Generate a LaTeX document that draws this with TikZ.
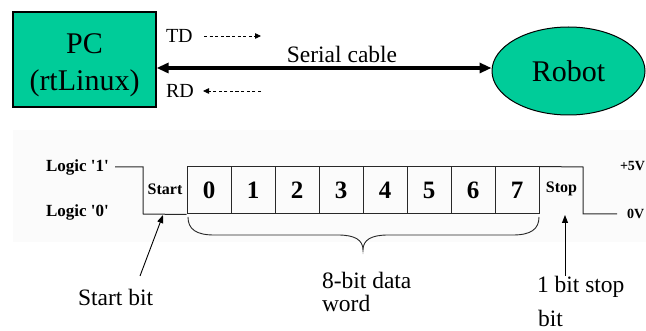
\documentclass[tikz,border=0pt]{standalone}
\usepackage{fontspec}
\setmainfont{Liberation Serif}
\usetikzlibrary{arrows.meta,shapes.geometric}
\definecolor{boxteal}{RGB}{0,204,153}
\definecolor{panelgray}{RGB}{251,251,251}
\definecolor{wavegray}{RGB}{40,40,40}

\begin{document}
\begin{tikzpicture}[x=1pt,y=-1pt,
  txt/.style={inner sep=0pt, outer sep=0pt},
  bigfont/.style={font=\fontsize{30}{37}\selectfont},
  labfont/.style={font=\fontsize{23.5}{28}\selectfont},
  tdfont/.style={font=\fontsize{20}{24}\selectfont},
  logicfont/.style={font=\bfseries\fontsize{17}{20}\selectfont},
  bitfont/.style={font=\bfseries\fontsize{25}{30}\selectfont},
  tagfont/.style={font=\bfseries\fontsize{16}{19}\selectfont},
  voltfont/.style={font=\bfseries\fontsize{14}{17}\selectfont},
  cable/.style={line width=3.2pt, {Triangle[length=12pt,width=10pt]}-{Triangle[length=12pt,width=10pt]}},
  sigline/.style={line width=0.8pt, dash pattern=on 3.2pt off 2.4pt, -{Triangle[length=6pt,width=5.5pt]}},
  wave/.style={line width=1pt, draw=wavegray},
  bitbox/.style={draw=wavegray, line width=1pt, minimum width=44pt, minimum height=47pt, inner sep=0pt, bitfont},
  pointer/.style={line width=0.9pt, -{Triangle[length=8pt,width=6pt]}}
]
\useasboundingbox (0,0) rectangle (646,331);

% ---- upper part: PC, robot and the serial link ----
\node[draw, fill=boxteal, line width=1.2pt, minimum width=143pt, minimum height=95pt,
      inner sep=0pt] (pc) at (84.5,59.5) {};
\node[txt, align=center, bigfont] (pclbl) at ([yshift=-6pt]pc.center) {PC\\(rtLinux)};
\node[ellipse, draw, fill=boxteal, line width=1pt, minimum width=153pt, minimum height=88pt,
      inner sep=0pt, bigfont] (rob) at (568.5,71) {Robot};

\draw[cable] ([yshift=-8.5pt]pc.east) coordinate (cabL) -- (cabL -| rob.west) coordinate (cabR);
\node[txt, anchor=base, labfont] (cablbl) at (342,63) {Serial cable};

\node[txt, anchor=west, tdfont] (td) at (166,36) {TD};
\node[txt, anchor=west, tdfont] (rd) at (166,91) {RD};
\coordinate (tdA) at (204,36);
\coordinate (tdB) at (261,36);
\coordinate (rdA) at (261,91);
\coordinate (rdB) at (203,91);
\draw[sigline] (tdA) -- (tdB);
\draw[sigline] (rdA) -- (rdB);

% ---- lower part: one serial frame ----
\fill[panelgray] (13,130) rectangle (646,242);

\node[txt, anchor=west, logicfont] (l1) at (46,167) {Logic \textquotesingle 1\textquotesingle};
\node[txt, anchor=west, logicfont] (l0) at (46,212) {Logic \textquotesingle 0\textquotesingle};

\foreach \i in {0,...,7}{
  \node[bitbox] (b\i) at (209+44*\i,190.5) {\i};
}

\coordinate (w1) at (115,167);
\coordinate (w2) at (143,167);
\coordinate (w3) at (143,214);
\draw[wave] (w1) -- (w2) -- (w3) -- (b0.south west);
\coordinate (w5) at (583,167);
\coordinate (w6) at (583,214);
\coordinate (w7) at (617,214);
\draw[wave] (b7.north east) -- (w5) -- (w6) -- (w7);

\node[txt, tagfont] (stt) at (165,189) {Start};
\node[txt, tagfont] (stp) at (561.5,189) {Stop};
\node[txt, anchor=west, voltfont] (v5) at (620,166) {+5V};
\node[txt, anchor=west, voltfont] (v0) at (627,214) {0V};

% brace under the data bits
\draw[line width=0.9pt, draw=wavegray]
  (188,217) .. controls (188,229) and (196,235) .. (214,235) -- (338,235)
  .. controls (355,235) and (363,240) .. (363,250)
  .. controls (363,240) and (371,235) .. (388,235) -- (513,235)
  .. controls (531,235) and (539,229) .. (539,217);

% callouts
\node[txt, anchor=west, labfont] (sbit) at (78,297) {Start bit};
\coordinate (saT) at (140,276);
\coordinate (saH) at (163,215);
\draw[pointer] (saT) -- (saH);

\node[txt, anchor=west, labfont] (dw1) at (322,280) {8-bit data};
\node[txt, anchor=west, labfont] (dw2) at (322,303) {word};

\node[txt, anchor=west, labfont] (sp1) at (537,287) {1 bit stop};
\node[txt, anchor=west, labfont] (sp2) at (538,318) {bit};
\coordinate (spT) at (565,276);
\coordinate (spH) at (565,215);
\draw[pointer] (spT) -- (spH);
\end{tikzpicture}
\end{document}
